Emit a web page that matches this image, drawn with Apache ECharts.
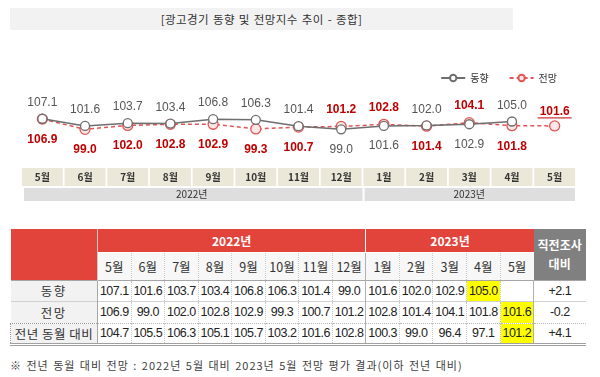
<!DOCTYPE html>
<html><head><meta charset="utf-8">
<script src="https://cdn.jsdelivr.net/npm/echarts@6/dist/echarts.min.js"></script>
<style>
html,body{margin:0;padding:0;background:#fff;}
#wrap{position:relative;width:600px;height:377px;overflow:hidden;font-family:"Noto Sans CJK KR",sans-serif;}
#chart{position:absolute;left:0;top:0;width:600px;height:215px;}
#title{position:absolute;left:10px;top:8px;width:503px;height:22px;background:#f2f2f2;color:#333;font-size:11.5px;line-height:22px;text-align:center;letter-spacing:0.4px;word-spacing:1px;}
#tbl{position:absolute;left:10px;top:229px;border-collapse:collapse;table-layout:fixed;width:575px;}
#tbl td{padding:0;text-align:center;overflow:hidden;white-space:nowrap;}
#tbl .red{background:#e2433b;color:#fff;font-weight:bold;font-size:12px;}
#tbl .gray{background:#808080;color:#fff;font-weight:bold;font-size:12px;line-height:19px;}
#tbl .mon td.m{background:#f7f7f7;color:#333;font-size:12.5px;}
#tbl td.num{font-family:"Liberation Sans Narrow","Liberation Sans",sans-serif;font-size:12.5px;color:#222;letter-spacing:-0.5px;}
#tbl td.lab{background:#f2f2f2;color:#333;font-size:12.5px;letter-spacing:1.5px;border-right:1px solid #a6a6a6;}
#tbl td.hl{background:#ffff00;}
#foot{position:absolute;left:10px;top:357px;font-size:11px;color:#404040;letter-spacing:1px;word-spacing:1px;white-space:nowrap;}
</style></head>
<body><div id="wrap">
<div id="chart"></div>
<div id="title">[광고경기 동향 및 전망지수 추이 - 종합]</div>
<table id="tbl"></table>
<div id="foot">※ 전년 동월 대비 전망 : 2022년 5월 대비 2023년 5월 전망 평가 결과(이하 전년 대비)</div>
</div>
<script>
// ---- data ----
const months = ['5월','6월','7월','8월','9월','10월','11월','12월','1월','2월','3월','4월','5월'];
const years = ['2022년','2023년'];
const yearSpan = [8, 5];
const dongHyang = [107.1,101.6,103.7,103.4,106.8,106.3,101.4,99.0,101.6,102.0,102.9,105.0,null];
const jeonMang  = [106.9,99.0,102.0,102.8,102.9,99.3,100.7,101.2,102.8,101.4,104.1,101.8,101.6];
const yoyLabel = '전년 동월 대비';
const yoy = [104.7,105.5,106.3,105.1,105.7,103.2,101.6,102.8,100.3,99.0,96.4,97.1,101.2];
const changeHeader = ['직전조사','대비'];
const change = ['+2.1','-0.2','+4.1'];
const seriesNames = ['동향','전망'];

// ---- chart ----
const chart = echarts.init(document.getElementById('chart'));
function lab(own, other, isRed, last){
  const top = other == null || own >= other;
  return {position: top ? 'top' : 'bottom', distance: top ? (last ? 3 : 5) : 9};
}
const dData = dongHyang.map((v,i)=> v==null ? null : ({value:v, label: lab(v, jeonMang[i])}));
const jData = jeonMang.map((v,i)=> ({value:v, label: lab(v, dongHyang[i], true, dongHyang[i]==null)}));
const fmt = p => p.value.toFixed(1);
chart.setOption({
  animation:false,
  grid:{left:21,right:24,top:76,height:78},
  legend:{right:38,top:68,itemWidth:24,itemHeight:8,itemGap:20,
    textStyle:{fontSize:10,color:'#333',fontFamily:'Noto Sans CJK KR'},
    data:seriesNames},
  xAxis:{type:'category',data:months,axisLine:{show:false},axisTick:{show:false},
    axisLabel:{interval:0,margin:14,backgroundColor:'#ece8d9',width:41,height:18,lineHeight:18,
      align:'center',fontSize:10,fontWeight:'bold',color:'#333',fontFamily:'Noto Sans CJK KR'}},
  yAxis:{type:'value',min:80,max:140,show:false,splitLine:{show:false}},
  series:[
    {name:seriesNames[0],type:'line',data:dData,symbol:'circle',symbolSize:9,z:3,
     lineStyle:{color:'#6e6e6e',width:1.5},
     itemStyle:{color:'#ffffff',borderColor:'#6e6e6e',borderWidth:1.3},
     label:{show:true,formatter:fmt,color:'#555',fontSize:12,fontFamily:'Liberation Sans, Arial'}},
    {name:seriesNames[1],type:'line',data:jData,symbol:'circle',symbolSize:10,z:2,
     lineStyle:{color:'#e05656',width:1.5,type:[4,3]},
     itemStyle:{color:'#fde6e6',borderColor:'#e05656',borderWidth:1.3},
     label:{show:true,formatter:fmt,color:'#c00000',fontWeight:'bold',fontSize:12,fontFamily:'Liberation Sans, Arial'}}
  ]
});
// year row and underline from the axis scale
const band = (600-21-24)/months.length;
const g = [];
let start = 0;
years.forEach((y,k)=>{
  const x0 = chart.convertToPixel({xAxisIndex:0}, start) - band/2;
  const x1 = chart.convertToPixel({xAxisIndex:0}, start+yearSpan[k]-1) + band/2;
  g.push({type:'rect',shape:{x:x0+(k?2:3),y:188,width:x1-x0-(k?3:3),height:13},style:{fill:'#dedede'},silent:true});
  g.push({type:'text',x:(x0+x1)/2,y:194.5,style:{text:y,fontSize:10,fill:'#333',align:'center',verticalAlign:'middle',fontFamily:'Noto Sans CJK KR'},silent:true});
  start += yearSpan[k];
});
const li = jeonMang.length-1;
const pt = chart.convertToPixel({gridIndex:0}, [li, jeonMang[li]]);
g.push({type:'line',shape:{x1:pt[0]-17,y1:pt[1]-8,x2:pt[0]+17,y2:pt[1]-8},style:{stroke:'#c00000',lineWidth:1},silent:true});
chart.setOption({graphic:g});

// ---- table ----
const tbl = document.getElementById('tbl');
const W = {lab:87, mon:33.55, last:52};
let html = '<colgroup><col style="width:'+W.lab+'px">' + months.map(()=>'<col style="width:'+W.mon+'px">').join('') + '<col style="width:'+W.last+'px"></colgroup>';
html += '<tr style="height:23px"><td class="red" rowspan="2" style="border-right:1px solid #c9c9c9"></td>';
years.forEach((y,k)=>{ html += '<td class="red" colspan="'+yearSpan[k]+'" style="'+(k===0?'border-right:1px solid #fff;':'')+'border-bottom:1px solid #fff">'+y+'</td>'; });
html += '<td class="gray" rowspan="2">'+changeHeader.join('<br>')+'</td></tr>';
html += '<tr class="mon" style="height:28px">';
months.forEach((m,i)=>{
  const br = (i===yearSpan[0]-1) ? 'border-right:1px solid #b0b0b0;' : (i<months.length-1 ? 'border-right:1px dotted #c8c8c8;' : '');
  html += '<td class="m" style="'+br+'">'+m+'</td>';
});
html += '</tr>';
const rows = [[seriesNames[0], dongHyang, 11, '1px solid #d0d0d0'],[seriesNames[1], jeonMang, 12, '1px dotted #b8b8b8'],[yoyLabel, yoy, 12, '3px double #a0a0a0']];
rows.forEach((r,ri)=>{
  html += '<tr style="height:21.5px;border-bottom:'+r[3]+';'+(ri===0?'border-top:1px solid #a6a6a6;':'')+'">';
  const labStyle = ri===2 ? 'border:1px dotted #999;border-right:1px solid #a6a6a6;letter-spacing:0.5px;' : '';
  html += '<td class="lab" style="'+labStyle+'">'+r[0]+'</td>';
  r[1].forEach((v,i)=>{
    const br = (i===yearSpan[0]-1 || i===months.length-1) ? 'border-right:1px solid #b0b0b0;' : 'border-right:1px dotted #c8c8c8;';
    const hl = (i===r[2]) ? ' hl' : '';
    html += '<td class="num'+hl+'" style="'+br+'">'+(v==null?'':v.toFixed(1))+'</td>';
  });
  html += '<td class="num">'+change[ri]+'</td></tr>';
});
tbl.innerHTML = html;
</script>
</body></html>
